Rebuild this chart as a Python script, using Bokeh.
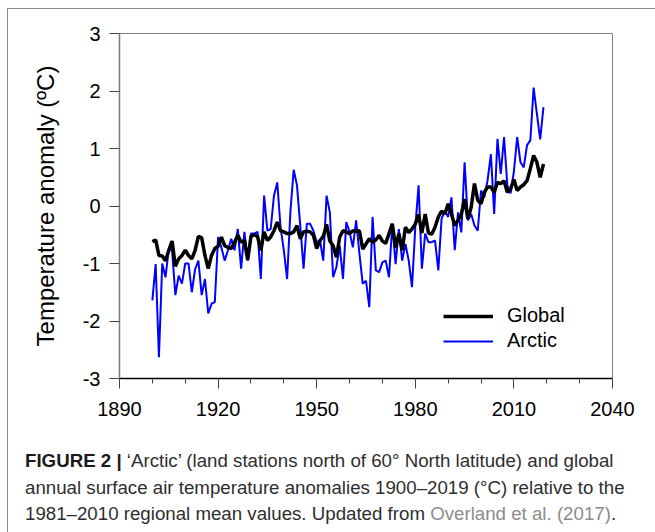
from bokeh.plotting import figure
from bokeh.layouts import column
from bokeh.models import Range1d, FixedTicker, Legend, LegendItem, Div
from bokeh.embed import file_html
from bokeh.resources import INLINE

years = list(range(1900, 2020))

arctic = [
    -1.64, -1.01, -2.63, -1.00, -1.24, -0.74, -0.78, -1.55, -1.21, -1.35,
    -1.00, -1.00, -1.50, -1.10, -0.95, -1.55, -1.27, -1.87, -1.70, -1.67,
    -0.54, -0.72, -0.95, -0.77, -0.57, -0.77, -0.40, -1.09, -0.45, -0.95,
    -0.48, -0.48, -0.45, -1.27, 0.18, -0.43, -0.40, 0.18, 0.41, -0.37,
    -0.77, -1.27, -0.10, 0.63, 0.36, -0.34, -1.09, -0.31, -0.31, -0.43,
    -0.63, -0.60, -0.95, 0.18, -0.11, -1.24, -1.06, -0.69, -1.27, -0.28,
    -0.45, -0.72, -0.25, -0.83, -1.35, -1.30, -1.76, -0.19, -1.12, -1.15,
    -0.98, -0.95, -1.24, -0.31, -1.01, -0.40, -0.95, -0.66, -0.95, -1.41,
    -0.37, 0.36, -1.09, -0.48, -0.63, -0.63, -0.60, -1.12, -0.22, -0.08,
    -0.19, 0.15, -0.77, -0.11, -0.46, 0.76, -0.25, -0.14, -0.34, -0.43,
    0.27, 0.15, 0.45, 0.90, -0.14, 1.17, 0.56, 1.20, 0.36, 0.22,
    0.60, 1.20, 0.76, 0.67, 1.06, 1.14, 2.06, 1.60, 1.16, 1.72,
]

global_ = [
    -0.62, -0.59, -0.86, -0.87, -0.95, -0.77, -0.61, -1.05, -0.92, -0.86,
    -0.77, -0.86, -0.92, -0.77, -0.53, -0.55, -0.86, -1.09, -0.86, -0.74,
    -0.70, -0.54, -0.69, -0.72, -0.74, -0.63, -0.51, -0.63, -0.60, -0.94,
    -0.53, -0.50, -0.53, -0.77, -0.45, -0.60, -0.54, -0.43, -0.28, -0.43,
    -0.45, -0.48, -0.48, -0.45, -0.34, -0.57, -0.45, -0.44, -0.45, -0.51,
    -0.74, -0.60, -0.53, -0.32, -0.61, -0.69, -0.89, -0.54, -0.43, -0.45,
    -0.48, -0.43, -0.44, -0.43, -0.75, -0.66, -0.57, -0.63, -0.59, -0.51,
    -0.61, -0.65, -0.48, -0.31, -0.72, -0.48, -0.77, -0.37, -0.46, -0.40,
    -0.31, -0.15, -0.47, -0.14, -0.47, -0.49, -0.37, -0.19, -0.09, -0.14,
    0.04, -0.14, -0.34, -0.25, -0.14, 0.12, -0.22, -0.02, 0.39, 0.10,
    0.04, 0.24, 0.33, 0.33, 0.24, 0.41, 0.39, 0.44, 0.24, 0.30,
    0.46, 0.27, 0.33, 0.37, 0.44, 0.65, 0.88, 0.76, 0.50, 0.73,
]

x_ticks = [1890, 1920, 1950, 1980, 2010, 2040]
x_minor = [1900, 1910, 1930, 1940, 1960, 1970, 1990, 2000, 2020, 2030]
y_ticks = [-3, -2, -1, 0, 1, 2, 3]
y_tick_labels = ["-3", "-2", "-1", "0", "1", "2", "3"]

caption_bold = "FIGURE 2 |"
caption_1 = "\u2018Arctic\u2019 (land stations north of 60\u00b0 North latitude) and global"
caption_2 = "annual surface air temperature anomalies 1900\u20132019 (\u00b0C) relative to the"
caption_3 = "1981\u20132010 regional mean values. Updated from"
caption_link = "Overland et al. (2017)"
caption_end = "."

FONT = "Liberation Sans"
W = 647

p = figure(
    width=W, height=424,
    frame_width=493, frame_height=345,
    min_border_left=111, min_border_right=W - 111 - 493,
    min_border_top=24, min_border_bottom=55,
    x_range=Range1d(1890, 2040), y_range=Range1d(-3, 3),
    output_backend="svg", toolbar_location=None,
)
p.grid.visible = False
p.outline_line_color = "#808080"
p.outline_line_width = 1
p.background_fill_color = "white"
p.border_fill_color = "white"

# x axis
xa = p.xaxis[0]
xa.ticker = FixedTicker(ticks=x_ticks, minor_ticks=x_minor)
xa.axis_line_color = "black"
xa.axis_line_width = 1.5
xa.major_tick_line_color = "#444444"
xa.minor_tick_line_color = "#444444"
xa.major_tick_out = 10
xa.major_tick_in = 0
xa.minor_tick_out = 5
xa.minor_tick_in = 0
xa.major_label_text_font = FONT
xa.major_label_text_font_size = "20px"
xa.major_label_text_color = "black"
xa.major_label_standoff = 13

# y axis
ya = p.yaxis[0]
ya.ticker = FixedTicker(ticks=y_ticks)
ya.major_label_overrides = dict(zip(y_ticks, y_tick_labels))
ya.axis_line_color = "#7a7a7a"
ya.axis_line_width = 1.5
ya.major_tick_line_color = "#444444"
ya.major_tick_out = 10
ya.major_tick_in = 0
ya.minor_tick_line_color = None
ya.major_label_text_font = FONT
ya.major_label_text_font_size = "20px"
ya.major_label_text_color = "black"
ya.major_label_standoff = 9
ya.axis_label = "Temperature anomaly (\u00baC)"
ya.axis_label_text_font = FONT
ya.axis_label_text_font_size = "24px"
ya.axis_label_text_font_style = "normal"
ya.axis_label_text_color = "black"
ya.axis_label_standoff = 21

r_arc = p.line(years, arctic, line_color="#0000ff", line_width=2)
r_glb = p.line(years, global_, line_color="black", line_width=3.5)

legend = Legend(
    items=[LegendItem(label="Global", renderers=[r_glb]),
           LegendItem(label="Arctic", renderers=[r_arc])],
    location=(324, 26),
    glyph_width=50, glyph_height=20, label_height=20,
    spacing=2, padding=0, margin=0, label_standoff=14,
    border_line_color=None, background_fill_alpha=0,
    label_text_font=FONT, label_text_font_size="20px", label_text_color="black",
)
p.add_layout(legend, "center")

caption_html = (
    '<div style="padding:10px 0 0 12px; font-family:\'Liberation Sans\', Arial, sans-serif; '
    'font-size:18.7px; line-height:26.5px; color:#2e2e2e; white-space:nowrap;">'
    f'<b style="color:#1a1a1a">{caption_bold}</b> {caption_1}<br>'
    f'{caption_2}<br>'
    f'{caption_3} <span style="color:#8c8c8c">{caption_link}</span>{caption_end}'
    '</div>'
)
cap = Div(text=caption_html, width=W, height=96)

layout = column(p, cap, spacing=0)
layout.margin = (8, 0, 0, 7)
layout.styles = {"border-left": "1px solid #8a8a8a", "border-top": "1px solid #8a8a8a"}
open("out.html", "w").write(file_html(layout, INLINE))
